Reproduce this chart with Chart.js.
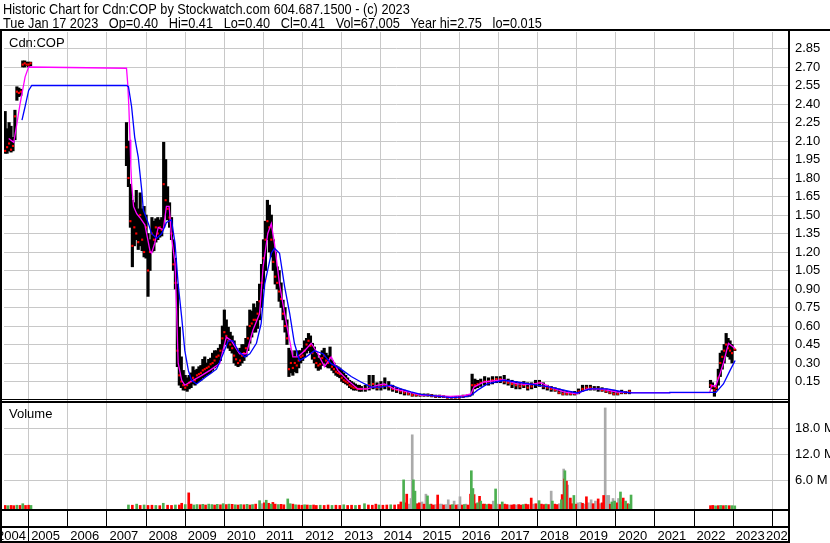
<!DOCTYPE html>
<html>
<head>
<meta charset="utf-8">
<title>Historic Chart for Cdn:COP</title>
<script src="https://cdn.jsdelivr.net/npm/chart.js@4"></script>
<style>
  html, body { margin: 0; padding: 0; background: #fff; }
  canvas { display: block; }
</style>
</head>
<body>
<canvas id="chart" width="830" height="543"></canvas>
<script>
// Header text
const titleLines = [
    'Historic Chart for Cdn:COP by Stockwatch.com 604.687.1500 - (c) 2023',
    'Tue Jan 17 2023   Op=0.40   Hi=0.41   Lo=0.40   Cl=0.41   Vol=67,005   Year hi=2.75   lo=0.015'
];
const symbolLabel = 'Cdn:COP';
const volumeLabel = 'Volume';
const yearTicks = [2004, 2005, 2006, 2007, 2008, 2009, 2010, 2011, 2012, 2013, 2014,
    2015, 2016, 2017, 2018, 2019, 2020, 2021, 2022, 2023, 2024];
const volTicks = [6e6, 12e6, 18e6];

// Price bars (decimal years), low / high / close
const priceDates = [
    2004.40, 2004.45, 2004.50, 2004.55, 2004.60, 2004.65, 2004.70, 2004.75, 2004.80, 2004.85,
    2004.90, 2004.95, 2005.00, 2005.05,
    2007.50, 2007.55, 2007.60, 2007.65, 2007.70, 2007.75, 2007.80, 2007.85, 2007.90, 2007.95,
    2008.00, 2008.05, 2008.10, 2008.15, 2008.20, 2008.25, 2008.30, 2008.35, 2008.40, 2008.45,
    2008.50, 2008.55, 2008.60, 2008.65, 2008.70, 2008.75, 2008.80, 2008.85, 2008.90, 2008.95,
    2009.00, 2009.05, 2009.10, 2009.15, 2009.20, 2009.25, 2009.30, 2009.35, 2009.40, 2009.45,
    2009.50, 2009.55, 2009.60, 2009.65, 2009.70, 2009.75, 2009.80, 2009.85, 2009.90, 2009.95,
    2010.00, 2010.05, 2010.10, 2010.15, 2010.20, 2010.25, 2010.30, 2010.35, 2010.40, 2010.45,
    2010.50, 2010.55, 2010.60, 2010.65, 2010.70, 2010.75, 2010.80, 2010.85, 2010.90, 2010.95,
    2011.00, 2011.05, 2011.10, 2011.15, 2011.20, 2011.25, 2011.30, 2011.35, 2011.40, 2011.45,
    2011.50, 2011.55, 2011.60, 2011.65, 2011.70, 2011.75, 2011.80, 2011.85, 2011.90, 2011.95,
    2012.00, 2012.05, 2012.10, 2012.15, 2012.20, 2012.25, 2012.30, 2012.35, 2012.40, 2012.45,
    2012.50, 2012.55, 2012.60, 2012.65, 2012.70, 2012.75, 2012.80, 2012.85, 2012.90, 2012.95,
    2013.00, 2013.05, 2013.10, 2013.15, 2013.20, 2013.25, 2013.30, 2013.35, 2013.40, 2013.45,
    2013.50,
    2013.60, 2013.70, 2013.80, 2013.90, 2014.00, 2014.10, 2014.20, 2014.30, 2014.40, 2014.50,
    2014.60, 2014.70, 2014.80, 2014.90, 2015.00, 2015.10, 2015.20, 2015.30, 2015.40, 2015.50,
    2015.60, 2015.70, 2015.80, 2015.90, 2016.00, 2016.10, 2016.20, 2016.27, 2016.33, 2016.40,
    2016.47, 2016.55, 2016.65, 2016.75, 2016.85, 2016.95, 2017.05, 2017.15, 2017.25, 2017.35,
    2017.45, 2017.55, 2017.65, 2017.75, 2017.85, 2017.95, 2018.05, 2018.15, 2018.25, 2018.35,
    2018.45, 2018.55, 2018.65, 2018.75, 2018.85, 2018.95, 2019.05, 2019.15, 2019.25, 2019.35,
    2019.45, 2019.55, 2019.65, 2019.75, 2019.85, 2019.95, 2020.05, 2020.15, 2020.25, 2020.35,
    2022.42, 2022.47, 2022.52, 2022.57, 2022.62, 2022.67, 2022.72, 2022.77, 2022.82, 2022.87,
    2022.92, 2022.97, 2023.04
];
const priceLow = [
    2.00, 2.00, 2.02, 2.01, 2.02, 2.11, 2.43, 2.46, 2.47, 2.70,
    2.70, 2.71, 2.70, 2.71,
    1.90, 1.73, 1.40, 1.08, 1.25, 1.30, 1.22, 1.25, 1.21, 1.16,
    1.15, 0.84, 1.05, 1.20, 1.21, 1.28, 1.30, 1.32, 1.33, 1.40,
    1.50, 1.46, 1.40, 1.30, 1.05, 0.90, 0.27, 0.12, 0.10, 0.08,
    0.08, 0.07, 0.09, 0.10, 0.13, 0.12, 0.14, 0.15, 0.16, 0.18,
    0.19, 0.20, 0.21, 0.22, 0.24, 0.26, 0.27, 0.30, 0.32, 0.40,
    0.46, 0.45, 0.42, 0.40, 0.38, 0.30, 0.28, 0.27, 0.28, 0.30,
    0.32, 0.35, 0.40, 0.46, 0.51, 0.55, 0.55, 0.58, 0.65, 0.75,
    0.90, 1.05, 1.30, 1.20, 1.16, 1.05, 0.94, 0.90, 0.80, 0.75,
    0.65, 0.55, 0.45, 0.19, 0.22, 0.20, 0.23, 0.22, 0.26, 0.30,
    0.32, 0.35, 0.38, 0.40, 0.38, 0.33, 0.30, 0.26, 0.24, 0.25,
    0.28, 0.30, 0.27, 0.26, 0.26, 0.24, 0.22, 0.20, 0.19, 0.18,
    0.15, 0.14, 0.13, 0.12, 0.10, 0.09, 0.08, 0.08, 0.08, 0.07,
    0.07,
    0.07, 0.08, 0.09, 0.08, 0.08, 0.09, 0.08, 0.07, 0.06, 0.05,
    0.04, 0.04, 0.03, 0.03, 0.03, 0.03, 0.03, 0.025, 0.02, 0.02,
    0.02, 0.015, 0.015, 0.015, 0.015, 0.02, 0.025, 0.03, 0.04, 0.09,
    0.10, 0.11, 0.12, 0.12, 0.13, 0.14, 0.14, 0.13, 0.12, 0.10,
    0.09, 0.09, 0.10, 0.08, 0.09, 0.10, 0.11, 0.09, 0.08, 0.07,
    0.07, 0.05, 0.04, 0.04, 0.04, 0.04, 0.05, 0.07, 0.08, 0.08,
    0.08, 0.07, 0.07, 0.06, 0.05, 0.04, 0.04, 0.05, 0.05, 0.05,
    0.10, 0.09, 0.03, 0.08, 0.12, 0.19, 0.25, 0.30, 0.36, 0.35,
    0.33, 0.30, 0.40
];
const priceHigh = [
    2.34, 2.20, 2.25, 2.22, 2.13, 2.35, 2.54, 2.53, 2.52, 2.75,
    2.75, 2.74, 2.74, 2.74,
    2.25, 2.10, 1.75, 1.62, 1.60, 1.70, 1.55, 1.68, 1.55, 1.57,
    1.50, 1.35, 1.30, 1.48, 1.45, 1.47, 1.48, 1.46, 1.48, 2.09,
    1.95, 1.73, 1.60, 1.48, 1.30, 1.15, 0.94, 0.59, 0.35, 0.24,
    0.20, 0.18, 0.20, 0.22, 0.27, 0.24, 0.25, 0.27, 0.28, 0.33,
    0.35, 0.30, 0.33, 0.34, 0.38, 0.40, 0.40, 0.42, 0.45, 0.60,
    0.73, 0.65, 0.59, 0.55, 0.52, 0.48, 0.42, 0.40, 0.42, 0.45,
    0.45, 0.50, 0.60, 0.73, 0.72, 0.78, 0.75, 0.80, 0.94, 1.10,
    1.30, 1.45, 1.62, 1.58, 1.50, 1.30, 1.20, 1.08, 1.05, 0.95,
    0.81, 0.75, 0.65, 0.42, 0.40, 0.36, 0.40, 0.35, 0.40, 0.40,
    0.42, 0.48, 0.50, 0.54, 0.52, 0.46, 0.43, 0.38, 0.34, 0.36,
    0.40, 0.42, 0.38, 0.36, 0.43, 0.32, 0.30, 0.28, 0.27, 0.26,
    0.24, 0.22, 0.20, 0.18, 0.16, 0.15, 0.14, 0.13, 0.12, 0.12,
    0.11,
    0.12, 0.20, 0.20, 0.14, 0.15, 0.18, 0.15, 0.12, 0.10, 0.09,
    0.08, 0.07, 0.06, 0.05, 0.05, 0.05, 0.05, 0.045, 0.04, 0.04,
    0.035, 0.03, 0.03, 0.03, 0.03, 0.04, 0.04, 0.045, 0.21, 0.17,
    0.16, 0.17, 0.19, 0.18, 0.19, 0.19, 0.19, 0.20, 0.17, 0.16,
    0.15, 0.14, 0.15, 0.14, 0.14, 0.16, 0.16, 0.14, 0.12, 0.11,
    0.10, 0.09, 0.08, 0.07, 0.07, 0.07, 0.09, 0.12, 0.12, 0.12,
    0.11, 0.11, 0.10, 0.09, 0.08, 0.08, 0.07, 0.08, 0.07, 0.08,
    0.16, 0.14, 0.10, 0.12, 0.25, 0.38, 0.40, 0.45, 0.54, 0.50,
    0.48, 0.45, 0.41
];
const priceClose = [
    2.02, 2.05, 2.08, 2.03, 2.06, 2.30, 2.50, 2.49, 2.50, 2.72,
    2.73, 2.72, 2.72, 2.73,
    2.05, 1.80, 1.45, 1.25, 1.40, 1.35, 1.28, 1.50, 1.30, 1.20,
    1.40, 1.05, 1.20, 1.35, 1.30, 1.40, 1.35, 1.40, 1.38, 1.75,
    1.62, 1.55, 1.48, 1.35, 1.10, 0.95, 0.40, 0.20, 0.15, 0.12,
    0.10, 0.12, 0.14, 0.15, 0.18, 0.16, 0.20, 0.21, 0.22, 0.24,
    0.25, 0.26, 0.27, 0.29, 0.30, 0.32, 0.35, 0.36, 0.40, 0.50,
    0.55, 0.52, 0.48, 0.45, 0.42, 0.36, 0.33, 0.30, 0.32, 0.36,
    0.38, 0.42, 0.50, 0.60, 0.62, 0.65, 0.65, 0.70, 0.80, 0.95,
    1.15, 1.30, 1.45, 1.40, 1.30, 1.12, 1.00, 0.95, 0.88, 0.82,
    0.70, 0.60, 0.50, 0.25, 0.30, 0.26, 0.30, 0.28, 0.32, 0.35,
    0.36, 0.40, 0.45, 0.48, 0.44, 0.38, 0.34, 0.30, 0.28, 0.29,
    0.34, 0.36, 0.32, 0.30, 0.34, 0.27, 0.25, 0.23, 0.22, 0.21,
    0.18, 0.16, 0.15, 0.14, 0.12, 0.11, 0.10, 0.10, 0.09, 0.09,
    0.09,
    0.09, 0.12, 0.13, 0.10, 0.11, 0.12, 0.11, 0.09, 0.08, 0.07,
    0.06, 0.05, 0.04, 0.04, 0.04, 0.04, 0.04, 0.035, 0.03, 0.03,
    0.025, 0.02, 0.02, 0.02, 0.02, 0.03, 0.035, 0.04, 0.12, 0.12,
    0.13, 0.14, 0.15, 0.15, 0.16, 0.17, 0.17, 0.15, 0.14, 0.13,
    0.12, 0.11, 0.12, 0.10, 0.11, 0.13, 0.14, 0.11, 0.10, 0.09,
    0.08, 0.06, 0.05, 0.05, 0.05, 0.05, 0.07, 0.09, 0.10, 0.10,
    0.09, 0.09, 0.08, 0.07, 0.06, 0.05, 0.05, 0.06, 0.06, 0.07,
    0.12, 0.11, 0.08, 0.10, 0.18, 0.30, 0.35, 0.40, 0.45, 0.42,
    0.40, 0.38, 0.41
];

// Short moving average (magenta)
const maFastDates = [
    2004.49, 2004.62, 2004.70, 2004.78, 2004.91, 2005.00, 2007.50, 2007.53, 2007.56, 2007.59,
    2007.61, 2007.63, 2007.68, 2007.76, 2007.84, 2007.97, 2008.10, 2008.14, 2008.22, 2008.31,
    2008.44, 2008.52, 2008.59, 2008.65, 2008.74, 2008.78, 2008.82, 2008.91, 2008.99, 2009.12,
    2009.37, 2009.63, 2009.88, 2010.05, 2010.18, 2010.39, 2010.56, 2010.73, 2010.90, 2010.99,
    2011.11, 2011.20, 2011.28, 2011.41, 2011.54, 2011.67, 2011.75, 2011.88, 2012.05, 2012.22,
    2012.39, 2012.56, 2012.73, 2012.90, 2013.15, 2013.41, 2013.66, 2013.92, 2014.09, 2014.34,
    2014.68, 2015.02, 2015.78, 2016.12, 2016.30, 2016.38, 2016.63, 2017.14, 2017.48, 2017.82,
    2018.08, 2018.33, 2018.67, 2019.01, 2019.27, 2019.61, 2020.03, 2020.40, 2022.40, 2022.45,
    2022.55, 2022.65, 2022.75, 2022.88, 2023.00, 2023.04
];
const maFastValues = [
    2.12, 2.09, 2.24, 2.40, 2.62, 2.70, 2.69, 2.57, 2.38, 2.11,
    1.90, 1.76, 1.57, 1.51, 1.48, 1.42, 1.21, 1.19, 1.27, 1.40,
    1.38, 1.57, 1.57, 1.32, 1.11, 0.73, 0.30, 0.16, 0.12, 0.146,
    0.19, 0.24, 0.295, 0.51, 0.48, 0.375, 0.375, 0.565, 0.70, 1.08,
    1.35, 1.43, 1.27, 0.94, 0.70, 0.48, 0.35, 0.35, 0.40, 0.46,
    0.375, 0.27, 0.35, 0.24, 0.16, 0.09, 0.09, 0.12, 0.13, 0.09,
    0.065, 0.04, 0.03, 0.035, 0.05, 0.105, 0.146, 0.165, 0.13, 0.125,
    0.14, 0.105, 0.065, 0.05, 0.09, 0.09, 0.065, 0.06, 0.06, 0.12,
    0.11, 0.20, 0.30, 0.46, 0.43, 0.42
];

// Long moving average (blue)
const maSlowDates = [
    2004.83, 2004.91, 2005.00, 2005.08, 2007.50, 2007.55, 2007.63, 2007.71, 2007.80, 2007.89,
    2007.93, 2008.06, 2008.14, 2008.27, 2008.40, 2008.52, 2008.65, 2008.74, 2008.82, 2008.91,
    2008.99, 2009.08, 2009.16, 2009.29, 2009.54, 2009.80, 2009.97, 2010.10, 2010.22, 2010.35,
    2010.52, 2010.65, 2010.82, 2010.94, 2011.03, 2011.20, 2011.28, 2011.41, 2011.54, 2011.67,
    2011.79, 2011.92, 2012.09, 2012.30, 2012.52, 2012.73, 2012.98, 2013.24, 2013.49, 2013.75,
    2014.00, 2014.26, 2014.51, 2014.77, 2015.02, 2015.78, 2016.12, 2016.29, 2016.47, 2016.72,
    2017.14, 2017.48, 2017.99, 2018.33, 2018.67, 2019.01, 2019.35, 2019.78, 2020.20, 2020.41,
    2021.37, 2021.38, 2022.56, 2022.75, 2022.92, 2023.05
];
const maSlowValues = [
    2.27, 2.38, 2.51, 2.55, 2.55, 2.54, 2.38, 2.13, 1.97, 1.70,
    1.54, 1.43, 1.35, 1.31, 1.35, 1.44, 1.46, 1.27, 0.94, 0.67,
    0.40, 0.24, 0.16, 0.13, 0.19, 0.25, 0.375, 0.48, 0.48, 0.40,
    0.35, 0.375, 0.46, 0.62, 0.94, 1.19, 1.23, 1.19, 0.92, 0.70,
    0.46, 0.32, 0.35, 0.40, 0.375, 0.295, 0.25, 0.19, 0.146, 0.105,
    0.105, 0.12, 0.09, 0.065, 0.045, 0.02, 0.025, 0.035, 0.08, 0.13,
    0.16, 0.146, 0.12, 0.105, 0.08, 0.057, 0.09, 0.09, 0.065, 0.057,
    0.057, 0.062, 0.062, 0.13, 0.24, 0.32
];

// Volume (millions of shares); kind: g = up day, r = down day, n = unchanged
const volDates = [
    2004.40, 2004.47, 2004.55, 2004.62, 2004.70, 2004.78, 2004.85, 2004.92, 2005.00, 2005.06,
    2007.55, 2007.65, 2007.76, 2007.85, 2007.95, 2008.05, 2008.15, 2008.25, 2008.35, 2008.44,
    2008.55, 2008.65, 2008.75, 2008.85, 2008.91, 2009.00, 2009.09, 2009.15, 2009.22, 2009.30,
    2009.38, 2009.45, 2009.52, 2009.60, 2009.68, 2009.75, 2009.82, 2009.90, 2009.97, 2010.05,
    2010.12, 2010.20, 2010.28, 2010.35, 2010.42, 2010.50, 2010.58, 2010.65, 2010.72, 2010.80,
    2010.90, 2010.96, 2011.02, 2011.07, 2011.13, 2011.20, 2011.24, 2011.30, 2011.38, 2011.45,
    2011.52, 2011.62, 2011.68, 2011.75, 2011.82, 2011.90, 2011.98, 2012.05, 2012.12, 2012.20,
    2012.28, 2012.35, 2012.45, 2012.55, 2012.65, 2012.75, 2012.85, 2012.95, 2013.05, 2013.15,
    2013.25, 2013.35, 2013.45, 2013.58, 2013.68, 2013.78, 2013.87, 2013.95, 2014.05, 2014.15,
    2014.25, 2014.35, 2014.45, 2014.51, 2014.58, 2014.62, 2014.66, 2014.72, 2014.77, 2014.80,
    2014.83, 2014.87, 2014.92, 2014.98, 2015.05, 2015.10, 2015.15, 2015.19, 2015.24, 2015.28,
    2015.34, 2015.40, 2015.45, 2015.50, 2015.55, 2015.60, 2015.66, 2015.72, 2015.78, 2015.83,
    2015.87, 2015.92, 2015.97, 2016.02, 2016.08, 2016.13, 2016.17, 2016.22, 2016.29, 2016.31,
    2016.35, 2016.38, 2016.42, 2016.47, 2016.52, 2016.55, 2016.60, 2016.65, 2016.70, 2016.76,
    2016.81, 2016.87, 2016.93, 2016.99, 2017.04, 2017.10, 2017.16, 2017.22, 2017.28, 2017.34,
    2017.40, 2017.46, 2017.52, 2017.58, 2017.64, 2017.70, 2017.76, 2017.84, 2017.90, 2017.96,
    2018.04, 2018.10, 2018.16, 2018.22, 2018.28, 2018.35, 2018.38, 2018.44, 2018.50, 2018.56,
    2018.61, 2018.63, 2018.67, 2018.685, 2018.70, 2018.74, 2018.77, 2018.81, 2018.84, 2018.88,
    2018.93, 2018.98, 2019.03, 2019.10, 2019.15, 2019.20, 2019.25, 2019.30, 2019.37, 2019.42,
    2019.48, 2019.55, 2019.60, 2019.65, 2019.69, 2019.73, 2019.78, 2019.82, 2019.86, 2019.90,
    2019.93, 2019.97, 2020.02, 2020.07, 2020.12, 2020.16, 2020.19, 2020.25, 2020.30, 2020.35,
    2020.39, 2022.42, 2022.48, 2022.55, 2022.62, 2022.68, 2022.75, 2022.82, 2022.90, 2022.97,
    2023.04
];
const volValues = [
    0.2, 0.15, 0.2, 0.15, 0.25, 0.2, 0.6, 0.2, 0.25, 0.2,
    0.3, 0.25, 0.5, 0.2, 0.3, 0.2, 0.25, 0.2, 0.15, 0.7,
    0.25, 0.2, 0.3, 0.3, 0.7, 0.4, 3.1, 0.5, 0.3, 0.4,
    0.35, 0.45, 0.3, 0.5, 0.4, 0.3, 0.45, 0.35, 0.6, 0.4,
    0.5, 0.45, 0.35, 0.3, 0.4, 0.35, 0.45, 0.3, 0.4, 0.5,
    1.3, 0.6, 0.8, 1.4, 0.7, 0.5, 0.9, 0.5, 0.4, 0.45,
    0.35, 1.7, 0.6, 0.5, 0.35, 0.3, 0.25, 0.35, 0.3, 0.25,
    0.3, 0.2, 0.25, 0.2, 0.3, 0.2, 0.25, 0.2, 0.35, 0.2,
    0.25, 0.2, 0.25, 0.6, 0.3, 0.25, 0.5, 0.3, 0.25, 0.3,
    0.35, 0.3, 0.4, 1.0, 6.1, 0.8, 2.8, 0.5, 1.8, 16.5,
    6.1, 3.5, 0.6, 0.8, 1.0, 0.5, 2.8, 2.4, 0.4, 0.5,
    0.3, 0.4, 2.6, 0.5, 0.5, 0.3, 0.4, 1.5, 0.3, 0.4,
    1.2, 0.3, 0.4, 2.2, 0.3, 0.4, 0.5, 0.3, 2.8, 8.2,
    4.1, 2.7, 0.6, 0.8, 2.3, 1.2, 0.5, 0.5, 0.4, 0.5,
    0.4, 1.2, 4.0, 0.5, 0.4, 1.0, 0.5, 0.4, 0.3, 0.3,
    0.4, 0.3, 0.4, 0.3, 0.4, 0.5, 0.4, 1.9, 0.5, 0.6,
    1.3, 0.5, 0.4, 0.5, 0.4, 3.5, 1.2, 0.5, 0.4, 0.6,
    1.5, 2.7, 8.6, 6.3, 8.2, 5.8, 4.9, 0.8, 1.9, 0.6,
    2.5, 0.5, 0.8, 0.9, 0.7, 0.5, 2.2, 0.8, 1.5, 0.6,
    1.2, 1.7, 0.6, 0.8, 2.5, 22.7, 2.5, 2.5, 0.5, 1.0,
    1.8, 1.2, 0.8, 1.8, 3.3, 1.0, 1.9, 1.2, 0.6, 0.5,
    2.6, 0.15, 0.2, 0.1, 0.15, 0.2, 0.15, 0.2, 0.15, 0.15,
    0.1
];
const volKinds = (
    'rgrrgrgrrg' + 'grgrgrrgrg' + 'rrgrrgrrgg' + 'rgrggrgrgr' + 'grgrgrgrgr' +
    'gnrgrgrrgr' + 'rggrgrrgrg' + 'rrgrrgrrgr' + 'rgrgrrrgrr' + 'grrrgrrnnn' +
    'ggrrnrnggr' + 'rnrnnrnnrg' + 'nrnnrgnrrg' + 'grrgrgrrgr' + 'rngnrgrrnr' +
    'rnrrgrrrnr' + 'grrgrngrrn' + 'grnrgrnnrr' + 'grnnrnrnnr' + 'nrnrrnnnrg' +
    'ngrngnrgrg' + 'grrgrgrgrg' + 'g'
).split('');

// Axis ranges and colours
const X_MIN = 2004.3706;
const X_MAX = 2024.4256;
const PRICE_MAX = 2.984;
const VOL_MIN = -0.623e6;
const VOL_MAX = 24.53e6;
const GRID = '#c8c8c8';
const FONT = 'Liberation Sans, Arial, sans-serif';

const volPoints = kind => volDates
    .map((d, i) => ({ x: d, y: volValues[i] * 1e6, k: volKinds[i] }))
    .filter(p => p.k === kind);

// Borders, header and year labels are drawn around the plot
const frame = {
    id: 'frame',
    beforeDraw(chart) {
        const ctx = chart.ctx;
        ctx.save();
        ctx.fillStyle = '#fff';
        ctx.fillRect(0, 0, chart.width, chart.height);
        ctx.restore();
    },
    afterDraw(chart) {
        const ctx = chart.ctx;
        const xs = chart.scales.x;
        ctx.save();
        ctx.fillStyle = '#000';
        ctx.fillRect(0, 29, chart.width, 2);
        ctx.fillRect(0, 29, 2, 514);
        ctx.fillRect(788, 29, 2, 514);
        ctx.fillRect(0, 399, 790, 1);
        ctx.fillRect(0, 401, 790, 2);
        ctx.fillRect(0, 509, 790, 2);
        ctx.fillRect(0, 526, 790, 2);
        ctx.fillRect(0, 541, 790, 2);
        ctx.fillRect(Math.round(xs.getPixelForValue(2005)) - 1, 527, 1, 14);

        ctx.font = '13px ' + FONT;
        ctx.textAlign = 'left';
        ctx.textBaseline = 'alphabetic';
        ctx.fillText(symbolLabel, 9, 46.5);
        ctx.fillText(volumeLabel, 9, 417.5);

        // year labels under the plot
        ctx.save();
        ctx.beginPath();
        ctx.rect(0, 528, 788, 13);
        ctx.clip();
        yearTicks.forEach(yr => {
            let px = xs.getPixelForValue(yr) + 2.5;
            if (px < 0) px = -3;
            if (px > 766) px = 766;
            ctx.fillText(String(yr), px, 539.5);
        });
        ctx.restore();

        // header, slightly condensed
        ctx.font = '15px ' + FONT;
        ctx.scale(0.85, 1);
        ctx.fillText(titleLines[0], 3 / 0.85, 13.5);
        ctx.fillText(titleLines[1], 3 / 0.85, 27.5);
        ctx.restore();
    }
};

new Chart(document.getElementById('chart').getContext('2d'), {
    type: 'line',
    data: {
        datasets: [{
            type: 'line',
            label: 'MA long',
            data: maSlowDates.map((d, i) => ({ x: d, y: maSlowValues[i] })),
            borderColor: '#0000ff',
            borderWidth: 1.3,
            pointRadius: 0,
            tension: 0,
            fill: false,
            yAxisID: 'y'
        }, {
            type: 'line',
            label: 'MA short',
            data: maFastDates.map((d, i) => ({ x: d, y: maFastValues[i] })),
            borderColor: '#ff00ff',
            borderWidth: 1.3,
            pointRadius: 0,
            tension: 0,
            fill: false,
            yAxisID: 'y'
        }, {
            type: 'line',
            label: 'Close',
            data: priceDates.map((d, i) => ({ x: d, y: priceClose[i] })),
            showLine: false,
            pointStyle: 'rect',
            pointRadius: 1.5,
            pointBorderWidth: 0,
            pointBackgroundColor: '#ff0000',
            yAxisID: 'y'
        }, {
            type: 'bar',
            label: 'Range',
            data: priceDates.map((d, i) => ({ x: d, y: [priceLow[i], priceHigh[i]] })),
            backgroundColor: '#000000',
            barThickness: 2.5,
            grouped: false,
            yAxisID: 'y'
        }, {
            type: 'bar',
            label: 'Vol up',
            data: volPoints('g'),
            backgroundColor: '#4caf50',
            barThickness: 2,
            grouped: false,
            base: VOL_MIN,
            yAxisID: 'yv'
        }, {
            type: 'bar',
            label: 'Vol down',
            data: volPoints('r'),
            backgroundColor: '#ff0000',
            barThickness: 2,
            grouped: false,
            base: VOL_MIN,
            yAxisID: 'yv'
        }, {
            type: 'bar',
            label: 'Vol flat',
            data: volPoints('n'),
            backgroundColor: '#aaaaaa',
            barThickness: 2,
            grouped: false,
            base: VOL_MIN,
            yAxisID: 'yv'
        }]
    },
    options: {
        responsive: false,
        animation: false,
        devicePixelRatio: 1,
        layout: { padding: { top: 32, left: 2, right: 0, bottom: 0 } },
        plugins: {
            legend: { display: false },
            tooltip: { enabled: false },
            title: { display: false }
        },
        scales: {
            x: {
                type: 'linear',
                min: X_MIN,
                max: X_MAX,
                offset: false,
                ticks: { display: false, stepSize: 1, includeBounds: false, maxTicksLimit: 100, autoSkip: false },
                grid: { color: GRID, offset: false, drawTicks: true, tickLength: 17, tickColor: '#000', tickWidth: 1 },
                border: { display: false },
                afterFit: s => { s.height = 34; }
            },
            y: {
                type: 'linear',
                position: 'right',
                stack: 'panels',
                stackWeight: 368,
                min: 0,
                max: PRICE_MAX,
                ticks: {
                    stepSize: 0.15,
                    includeBounds: false,
                    maxTicksLimit: 100,
                    autoSkip: false,
                    padding: 6,
                    color: '#000',
                    font: { family: FONT, size: 13 },
                    callback: v => v > 0.01 ? v.toFixed(2) : ''
                },
                grid: { color: ctx => (ctx.tick && ctx.tick.value > 0.01) ? GRID : 'rgba(0,0,0,0)', drawTicks: false },
                border: { display: false },
                afterFit: s => { s.width = 41; }
            },
            yv: {
                type: 'linear',
                position: 'right',
                stack: 'panels',
                stackWeight: 109,
                min: VOL_MIN,
                max: VOL_MAX,
                afterBuildTicks: s => { s.ticks = volTicks.map(v => ({ value: v })); },
                ticks: {
                    autoSkip: false,
                    padding: 6,
                    color: '#000',
                    font: { family: FONT, size: 13 },
                    callback: v => (v / 1e6).toFixed(1) + ' M'
                },
                grid: { color: GRID, drawTicks: false },
                border: { display: false },
                afterFit: s => { s.width = 41; }
            }
        }
    },
    plugins: [frame]
});
</script>
</body>
</html>
